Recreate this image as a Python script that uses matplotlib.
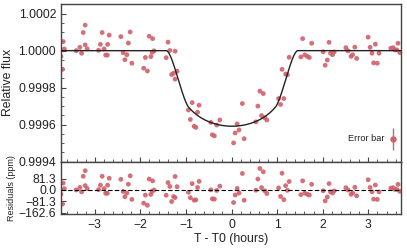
import numpy as np
import matplotlib
matplotlib.use("Agg")
import matplotlib.pyplot as plt
from matplotlib.ticker import AutoMinorLocator, FormatStrFormatter, FuncFormatter

plt.rcParams['font.family'] = ['Liberation Sans', 'DejaVu Sans']

# observed points: time from mid-transit (hours), relative flux
time_h = [
    -3.743, -3.706, -3.693, -3.667, -3.408, -3.327, -3.289, -3.254, -3.211, -3.211,
    -3.167, -2.917, -2.877, -2.838, -2.796, -2.761, -2.724, -2.719, -2.684, -2.428,
    -2.377, -2.340, -2.296, -2.263, -2.224, -2.186, -1.928, -1.890, -1.846, -1.807,
    -1.770, -1.741, -1.732, -1.700, -1.434, -1.393, -1.353, -1.314, -1.272, -1.239,
    -1.239, -1.195, -0.947, -0.904, -0.864, -0.822, -0.783, -0.746, -0.713, -0.454,
    -0.421, -0.377, -0.327, -0.257, 0.044, 0.079, 0.123, 0.164, 0.237, 0.276,
    0.533, 0.577, 0.621, 0.658, 0.697, 0.730, 0.774, 1.031, 1.075, 1.107,
    1.147, 1.186, 1.224, 1.263, 1.520, 1.559, 1.607, 1.662, 1.706, 1.757,
    2.009, 2.053, 2.101, 2.138, 2.171, 2.215, 2.250, 2.507, 2.555, 2.621,
    2.656, 2.704, 2.743, 2.996, 3.039, 3.081, 3.116, 3.154, 3.197, 3.235,
    3.493, 3.544, 3.581, 3.625, 3.651, 3.691,
]
rel_flux = [
    0.999969, 0.999899, 1.000049, 1.000009, 1.000000, 1.000018, 0.999986, 1.000098, 1.000138, 1.000031,
    1.000010, 1.000002, 1.000034, 1.000098, 1.000009, 0.999976, 0.999976, 1.000034, 1.000084, 1.000076,
    0.999989, 0.999951, 0.999978, 1.000041, 1.000101, 0.999932, 0.999905, 0.999963, 0.999890, 1.000078,
    0.999968, 0.999991, 1.000065, 0.999999, 0.999962, 1.000046, 1.000001, 0.999871, 0.999878, 0.999997,
    0.999846, 0.999889, 0.999679, 0.999628, 0.999719, 0.999591, 0.999585, 0.999667, 0.999705, 0.999612,
    0.999545, 0.999539, 0.999598, 0.999625, 0.999501, 0.999555, 0.999604, 0.999571, 0.999714, 0.999524,
    0.999615, 0.999700, 0.999781, 0.999649, 0.999768, 0.999637, 0.999625, 0.999741, 0.999709, 0.999899,
    0.999741, 0.999873, 0.999870, 0.999964, 0.999966, 1.000065, 0.999977, 0.999969, 0.999963, 1.000040,
    0.999994, 0.999921, 0.999949, 1.000045, 0.999986, 0.999978, 0.999993, 1.000016, 0.999999, 0.999969,
    0.999978, 1.000019, 0.999958, 1.000073, 1.000018, 0.999986, 0.999934, 1.000035, 0.999932, 0.999986,
    1.000013, 1.000016, 1.000004, 1.000004, 1.000040, 0.999990,
]

# transit model parameters
t0 = 0.01
rp = 0.0246      # Rp/Rs
b_imp = 0.936
a_h = 3.45       # hours per stellar radius
u1, u2 = 0.55, 0.30
err_ppm = 58.0

res_ticks = [81.3, 0.0, -81.3, -162.6]


def transit(t):
    t = np.asarray(t, dtype=float)
    z = np.sqrt(b_imp ** 2 + ((t - t0) / a_h) ** 2)
    p = rp
    area = np.zeros_like(z)
    full = z <= 1 - p
    area[full] = np.pi * p ** 2
    part = (z > 1 - p) & (z < 1 + p)
    zp = z[part]
    k0 = np.arccos(np.clip((p ** 2 + zp ** 2 - 1) / (2 * p * zp), -1, 1))
    k1 = np.arccos(np.clip((1 - p ** 2 + zp ** 2) / (2 * zp), -1, 1))
    area[part] = p ** 2 * k0 + k1 - 0.5 * np.sqrt(np.clip(4 * zp ** 2 - (1 + zp ** 2 - p ** 2) ** 2, 0, None))
    # mean radius of the covered part of the disc
    r = np.where(part, (z - p + 1) / 2, z)
    r = np.clip(r, 0, 1)
    mu = np.sqrt(1 - r ** 2)
    inten = 1 - u1 * (1 - mu) - u2 * (1 - mu) ** 2
    norm = 1 - u1 / 3 - u2 / 6
    return 1 - inten * area / (np.pi * norm)


t = np.array(time_h)
f = np.array(rel_flux)
resid = (f - transit(t)) * 1e6

xlim = (-3.74, 3.71)
tt = np.linspace(xlim[0], xlim[1], 1500)

pt_col = '#d0616a'
txt_col = '#222222'
spine_col = '#444444'

fig = plt.figure(figsize=(4.07, 2.49), dpi=100)
ax = fig.add_axes([0.150, 0.351, 0.8345, 0.632])
axr = fig.add_axes([0.150, 0.142, 0.8345, 0.209], sharex=ax)

ax.scatter(t, f, s=12, color=pt_col, alpha=0.9, edgecolors='none', zorder=2)
ax.plot(tt, transit(tt), color='#222222', lw=1.0, zorder=3)
ax.errorbar([3.54], [0.999523], yerr=[err_ppm * 1e-6], fmt='o', ms=3.6,
            color=pt_col, ecolor=pt_col, elinewidth=1.0, capsize=0)
ax.text(3.36, 0.999523, 'Error bar', fontsize=6.6, color=txt_col, ha='right', va='center')

ax.set_xlim(*xlim)
ax.set_ylim(0.9994, 1.000251)
ax.set_yticks([0.9994, 0.9996, 0.9998, 1.0000, 1.0002])
ax.yaxis.set_major_formatter(FormatStrFormatter('%.4f'))
ax.yaxis.set_minor_locator(AutoMinorLocator())
ax.xaxis.set_minor_locator(AutoMinorLocator())
ax.set_ylabel('Relative flux', fontsize=8.8, color=txt_col, labelpad=3)
plt.setp(ax.get_xticklabels(), visible=False)

axr.scatter(t, resid, s=12, color=pt_col, alpha=0.9, edgecolors='none', zorder=2)
axr.axhline(0, color='black', lw=0.8, ls=(0, (4, 2)), zorder=3)
axr.set_ylim(-170, 203)
axr.set_yticks(res_ticks)
axr.yaxis.set_major_formatter(FuncFormatter(lambda v, pos: ('%.1f' % v).replace('-', '\u2212')))
axr.set_xticks([-3, -2, -1, 0, 1, 2, 3])
axr.set_xlabel('T - T0 (hours)', fontsize=8.8, color=txt_col, labelpad=2)
axr.set_ylabel('Residuals (ppm)', fontsize=6.5, color=txt_col, labelpad=2)

for a in (ax, axr):
    a.tick_params(which='both', direction='in', labelsize=8.7, labelcolor=txt_col, color=spine_col)
    a.tick_params(which='major', length=3.5, width=0.8)
    a.tick_params(which='minor', length=2, width=0.6)
    for s in a.spines.values():
        s.set_color(spine_col)
        s.set_linewidth(1.0)

fig.savefig('out.png', dpi=100)
